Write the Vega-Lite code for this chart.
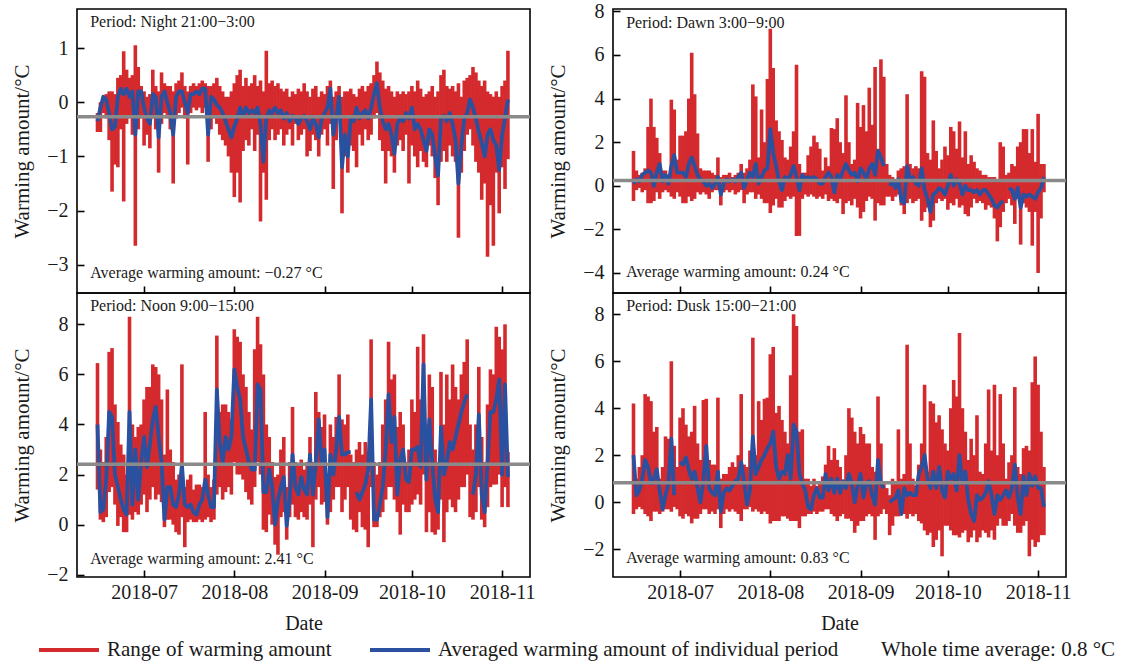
{
"$schema":"https://vega.github.io/schema/vega-lite/v6.json",
"autosize":{"type":"pad"},
"padding":{"left":10,"top":0,"right":5,"bottom":5},
"background":"white",
"config":{
 "font":"Liberation Serif",
 "view":{"stroke":"#000","strokeWidth":1.6},
 "axis":{"domain":false,"grid":false,"ticks":true,"tickColor":"#000","tickWidth":1.6,"tickSize":-7,"labelFont":"Liberation Serif","labelFontSize":20,"labelColor":"#1a1a1a","titleFont":"Liberation Serif","titleFontWeight":"normal","titleColor":"#1a1a1a"},
 "axisX":{"labelPadding":12,"titleFontSize":20,"titlePadding":11,"labelFlush":false,"labelOverlap":false},
 "axisY":{"labelPadding":16,"titleFontSize":21,"titlePadding":14,"format":"d"}
},
"datasets":{
"night":[
{"d":"2018-06-15","lo":-0.55,"hi":-0.2,"m":-0.35},{"d":"2018-06-16","lo":-0.55,"hi":0,"m":-0.1},{"d":"2018-06-17","lo":-0.2,"hi":0.1,"m":0.1},{"d":"2018-06-18","lo":-0.3,"hi":0.15,"m":0.05},{"d":"2018-06-19","lo":-0.7,"hi":0.2,"m":-0.2},{"d":"2018-06-20","lo":-1.65,"hi":0.2,"m":-0.5},{"d":"2018-06-21","lo":-1.15,"hi":0.15,"m":-0.45},{"d":"2018-06-22","lo":-1.2,"hi":0.45,"m":0.1},{"d":"2018-06-23","lo":-0.5,"hi":0.5,"m":0.25},{"d":"2018-06-24","lo":-1.83,"hi":0.94,"m":0.15},{"d":"2018-06-25","lo":-0.4,"hi":0.6,"m":0.25},{"d":"2018-06-26","lo":-0.3,"hi":0.45,"m":0.1},{"d":"2018-06-27","lo":-0.6,"hi":0.5,"m":0.2},{"d":"2018-06-28","lo":-2.65,"hi":1.05,"m":-0.6},{"d":"2018-06-29","lo":-0.5,"hi":0.65,"m":0.2},{"d":"2018-06-30","lo":-0.3,"hi":0.3,"m":0.2},
{"d":"2018-07-01","lo":-0.8,"hi":0.2,"m":-0.1},{"d":"2018-07-02","lo":-0.6,"hi":0.1,"m":-0.3},{"d":"2018-07-03","lo":-0.85,"hi":0.15,"m":-0.4},{"d":"2018-07-04","lo":-0.3,"hi":0.6,"m":0.15},{"d":"2018-07-05","lo":-0.5,"hi":0.3,"m":0.1},{"d":"2018-07-06","lo":-1.3,"hi":0.2,"m":-0.65},{"d":"2018-07-07","lo":-0.4,"hi":0.55,"m":0.1},{"d":"2018-07-08","lo":-0.2,"hi":0.35,"m":0.2},{"d":"2018-07-09","lo":-0.3,"hi":0.3,"m":0},{"d":"2018-07-10","lo":-0.5,"hi":0.3,"m":-0.2},{"d":"2018-07-11","lo":-1.5,"hi":0.2,"m":-0.6},{"d":"2018-07-12","lo":-0.3,"hi":0.35,"m":0.1},{"d":"2018-07-13","lo":-0.2,"hi":0.4,"m":0.2},{"d":"2018-07-14","lo":-0.1,"hi":0.55,"m":0.2},{"d":"2018-07-15","lo":-0.3,"hi":0.3,"m":0},{"d":"2018-07-16","lo":-1.15,"hi":0.2,"m":-0.2},{"d":"2018-07-17","lo":-0.2,"hi":0.3,"m":0.15},{"d":"2018-07-18","lo":-0.1,"hi":0.35,"m":0.15},{"d":"2018-07-19","lo":-0.15,"hi":0.3,"m":0.2},{"d":"2018-07-20","lo":-0.1,"hi":0.35,"m":0.15},{"d":"2018-07-21","lo":-0.2,"hi":0.4,"m":0.25},{"d":"2018-07-22","lo":-0.1,"hi":0.35,"m":0.25},{"d":"2018-07-23","lo":-1.1,"hi":0.3,"m":-0.6},{"d":"2018-07-24","lo":-0.5,"hi":0.3,"m":0.1},{"d":"2018-07-25","lo":-0.3,"hi":0.35,"m":0.05},{"d":"2018-07-26","lo":-0.4,"hi":0.45,"m":-0.05},{"d":"2018-07-27","lo":-0.6,"hi":0.3,"m":-0.1},{"d":"2018-07-28","lo":-0.7,"hi":0.2,"m":-0.2},{"d":"2018-07-29","lo":-0.8,"hi":0.1,"m":-0.35},{"d":"2018-07-30","lo":-1,"hi":0.1,"m":-0.5},{"d":"2018-07-31","lo":-1.3,"hi":0.2,"m":-0.65},
{"d":"2018-08-01","lo":-1.75,"hi":0.35,"m":-0.45},{"d":"2018-08-02","lo":-1.3,"hi":0.5,"m":-0.3},{"d":"2018-08-03","lo":-1.85,"hi":0.6,"m":-0.1},{"d":"2018-08-04","lo":-0.9,"hi":0.3,"m":-0.25},{"d":"2018-08-05","lo":-0.7,"hi":0.45,"m":-0.1},{"d":"2018-08-06","lo":-0.8,"hi":0.3,"m":-0.2},{"d":"2018-08-07","lo":-0.5,"hi":0.35,"m":-0.15},{"d":"2018-08-08","lo":-0.9,"hi":0.5,"m":-0.2},{"d":"2018-08-09","lo":-0.6,"hi":0.3,"m":-0.1},{"d":"2018-08-10","lo":-2.2,"hi":0.4,"m":-0.4},{"d":"2018-08-11","lo":-1.3,"hi":0.2,"m":-1.1},{"d":"2018-08-12","lo":-1.8,"hi":0.95,"m":-0.3},{"d":"2018-08-13","lo":-0.7,"hi":0.35,"m":-0.15},{"d":"2018-08-14","lo":-0.5,"hi":0.4,"m":-0.2},{"d":"2018-08-15","lo":-0.7,"hi":0.3,"m":-0.1},{"d":"2018-08-16","lo":-0.6,"hi":0.35,"m":-0.2},{"d":"2018-08-17","lo":-0.5,"hi":0.25,"m":-0.15},{"d":"2018-08-18","lo":-0.8,"hi":0.2,"m":-0.3},{"d":"2018-08-19","lo":-0.6,"hi":0.25,"m":-0.2},{"d":"2018-08-20","lo":-0.5,"hi":0.1,"m":-0.35},{"d":"2018-08-21","lo":-0.8,"hi":0.2,"m":-0.25},{"d":"2018-08-22","lo":-0.4,"hi":0.15,"m":-0.3},{"d":"2018-08-23","lo":-0.7,"hi":0.25,"m":-0.4},{"d":"2018-08-24","lo":-0.6,"hi":0.2,"m":-0.3},{"d":"2018-08-25","lo":-0.5,"hi":0.35,"m":-0.25},{"d":"2018-08-26","lo":-1,"hi":0.2,"m":-0.35},{"d":"2018-08-27","lo":-0.9,"hi":0.1,"m":-0.5},{"d":"2018-08-28","lo":-0.6,"hi":0.25,"m":-0.3},{"d":"2018-08-29","lo":-0.7,"hi":0.3,"m":-0.4},{"d":"2018-08-30","lo":-1,"hi":0.1,"m":-0.65},{"d":"2018-08-31","lo":-0.6,"hi":0.2,"m":-0.3},
{"d":"2018-09-01","lo":-0.5,"hi":0.15,"m":-0.2},{"d":"2018-09-02","lo":-0.8,"hi":0.3,"m":-0.1},{"d":"2018-09-03","lo":-0.4,"hi":0.4,"m":0.25},{"d":"2018-09-04","lo":-1.6,"hi":0.1,"m":-0.6},{"d":"2018-09-05","lo":-0.7,"hi":0.2,"m":-0.3},{"d":"2018-09-06","lo":-0.3,"hi":0.3,"m":0.1},{"d":"2018-09-07","lo":-2.05,"hi":0.1,"m":-1.2},{"d":"2018-09-08","lo":-1,"hi":0.2,"m":-0.6},{"d":"2018-09-09","lo":-1.3,"hi":0.2,"m":-1},{"d":"2018-09-10","lo":-0.8,"hi":0.25,"m":-0.3},{"d":"2018-09-11","lo":-0.9,"hi":0.15,"m":-0.35},{"d":"2018-09-12","lo":-1.2,"hi":0.1,"m":-0.1},{"d":"2018-09-13","lo":-0.6,"hi":0.25,"m":-0.3},{"d":"2018-09-14","lo":-0.8,"hi":0.3,"m":-0.2},{"d":"2018-09-15","lo":-0.5,"hi":0.2,"m":-0.15},{"d":"2018-09-16","lo":-0.7,"hi":0.3,"m":-0.3},{"d":"2018-09-17","lo":-0.6,"hi":0.35,"m":-0.1},{"d":"2018-09-18","lo":-0.3,"hi":0.5,"m":0.15},{"d":"2018-09-19","lo":-0.2,"hi":0.75,"m":0.35},{"d":"2018-09-20","lo":-0.7,"hi":0.55,"m":-0.1},{"d":"2018-09-21","lo":-0.9,"hi":0.4,"m":-0.35},{"d":"2018-09-22","lo":-1.5,"hi":0.25,"m":-0.5},{"d":"2018-09-23","lo":-0.9,"hi":0.3,"m":-0.4},{"d":"2018-09-24","lo":-1,"hi":0.2,"m":-0.6},{"d":"2018-09-25","lo":-1.3,"hi":0.1,"m":-0.95},{"d":"2018-09-26","lo":-0.8,"hi":0.2,"m":-0.4},{"d":"2018-09-27","lo":-0.7,"hi":0.15,"m":-0.3},{"d":"2018-09-28","lo":-0.9,"hi":0.2,"m":-0.35},{"d":"2018-09-29","lo":-0.6,"hi":0.15,"m":-0.2},{"d":"2018-09-30","lo":-1.5,"hi":0.2,"m":-0.3},
{"d":"2018-10-01","lo":-0.8,"hi":0.3,"m":-0.1},{"d":"2018-10-02","lo":-1,"hi":0.2,"m":-0.5},{"d":"2018-10-03","lo":-1.2,"hi":0.4,"m":-0.4},{"d":"2018-10-04","lo":-0.9,"hi":0.25,"m":-0.5},{"d":"2018-10-05","lo":-1.1,"hi":0.1,"m":-0.7},{"d":"2018-10-06","lo":-1.2,"hi":0.15,"m":-0.9},{"d":"2018-10-07","lo":-0.8,"hi":0.2,"m":-0.5},{"d":"2018-10-08","lo":-1,"hi":0.3,"m":-0.6},{"d":"2018-10-09","lo":-1.4,"hi":0.1,"m":-1},{"d":"2018-10-10","lo":-1.9,"hi":0.2,"m":-1.35},{"d":"2018-10-11","lo":-1.1,"hi":0.5,"m":-0.3},{"d":"2018-10-12","lo":-0.9,"hi":0.6,"m":-0.25},{"d":"2018-10-13","lo":-1.1,"hi":0.3,"m":-0.35},{"d":"2018-10-14","lo":-0.8,"hi":0.25,"m":-0.2},{"d":"2018-10-15","lo":-1,"hi":0.3,"m":-0.4},{"d":"2018-10-16","lo":-1.1,"hi":0.2,"m":-0.7},{"d":"2018-10-17","lo":-2.5,"hi":0.35,"m":-1.5},{"d":"2018-10-18","lo":-1.3,"hi":0.1,"m":-0.8},{"d":"2018-10-19","lo":-0.9,"hi":0.4,"m":-0.3},{"d":"2018-10-20","lo":-0.6,"hi":0.45,"m":-0.2},{"d":"2018-10-21","lo":-0.5,"hi":0.5,"m":0.05},{"d":"2018-10-22","lo":-0.8,"hi":0.65,"m":-0.1},{"d":"2018-10-23","lo":-1.1,"hi":0.55,"m":-0.3},{"d":"2018-10-24","lo":-1.3,"hi":0.4,"m":-0.55},{"d":"2018-10-25","lo":-1.8,"hi":0.3,"m":-0.75},{"d":"2018-10-26","lo":-1.5,"hi":0.4,"m":-1},{"d":"2018-10-27","lo":-2.85,"hi":0.2,"m":-0.6},{"d":"2018-10-28","lo":-1.9,"hi":0.15,"m":-0.5},{"d":"2018-10-29","lo":-2.65,"hi":0.1,"m":-0.7},{"d":"2018-10-30","lo":-1.3,"hi":0.2,"m":-0.8},{"d":"2018-10-31","lo":-2.05,"hi":0.1,"m":-1.25},
{"d":"2018-11-01","lo":-1.2,"hi":0.3,"m":-0.6},{"d":"2018-11-02","lo":-1.6,"hi":0.4,"m":-0.3},{"d":"2018-11-03","lo":-1.05,"hi":0.95,"m":0.05}
],
"dawn":[
{"d":"2018-06-15","lo":-0.7,"hi":1.6,"m":0.1},{"d":"2018-06-16","lo":-0.2,"hi":0.7,"m":0.3},{"d":"2018-06-17","lo":-0.1,"hi":0.5,"m":0.2},{"d":"2018-06-18","lo":-0.3,"hi":0.6,"m":0.5},{"d":"2018-06-19","lo":-0.2,"hi":0.8,"m":0.6},{"d":"2018-06-20","lo":-0.8,"hi":2.7,"m":0.7},{"d":"2018-06-21","lo":-0.8,"hi":4,"m":0.6},{"d":"2018-06-22","lo":-0.7,"hi":2.7,"m":0},{"d":"2018-06-23","lo":-0.3,"hi":2.2,"m":0.6},{"d":"2018-06-24","lo":-0.6,"hi":1.5,"m":1},{"d":"2018-06-25","lo":-0.3,"hi":0.7,"m":0.2},{"d":"2018-06-26","lo":-0.2,"hi":0.7,"m":0.5},{"d":"2018-06-27","lo":-0.3,"hi":0.5,"m":0.1},{"d":"2018-06-28","lo":-0.5,"hi":3.95,"m":0.9},{"d":"2018-06-29","lo":-0.6,"hi":3.5,"m":1.4},{"d":"2018-06-30","lo":-0.3,"hi":1.2,"m":0.6},
{"d":"2018-07-01","lo":-0.5,"hi":2.3,"m":0.6},{"d":"2018-07-02","lo":-0.8,"hi":2.3,"m":0.6},{"d":"2018-07-03","lo":-0.8,"hi":2.5,"m":0.4},{"d":"2018-07-04","lo":-0.5,"hi":4,"m":1},{"d":"2018-07-05","lo":-0.7,"hi":6.1,"m":1.3},{"d":"2018-07-06","lo":-0.6,"hi":4.2,"m":0.9},{"d":"2018-07-07","lo":-0.3,"hi":2.4,"m":0.5},{"d":"2018-07-08","lo":-0.4,"hi":0.8,"m":0.3},{"d":"2018-07-09","lo":-0.3,"hi":0.7,"m":0.2},{"d":"2018-07-10","lo":-0.4,"hi":0.7,"m":0},{"d":"2018-07-11","lo":-0.6,"hi":0.7,"m":0.1},{"d":"2018-07-12","lo":-0.3,"hi":0.6,"m":-0.1},{"d":"2018-07-13","lo":-0.2,"hi":0.5,"m":0.1},{"d":"2018-07-14","lo":-0.2,"hi":1.3,"m":0.4},{"d":"2018-07-15","lo":-0.9,"hi":0.4,"m":-0.4},{"d":"2018-07-16","lo":-0.3,"hi":0.5,"m":0.1},{"d":"2018-07-17","lo":-0.2,"hi":0.5,"m":0.3},{"d":"2018-07-18","lo":-0.3,"hi":0.6,"m":0.2},{"d":"2018-07-19","lo":-0.2,"hi":0.4,"m":0.3},{"d":"2018-07-20","lo":-0.4,"hi":0.5,"m":0.2},{"d":"2018-07-21","lo":-0.3,"hi":0.6,"m":0.4},{"d":"2018-07-22","lo":-0.2,"hi":1,"m":0.6},{"d":"2018-07-23","lo":-0.8,"hi":0.6,"m":-0.1},{"d":"2018-07-24","lo":-0.4,"hi":0.8,"m":0.3},{"d":"2018-07-25","lo":-0.3,"hi":1.2,"m":0.6},{"d":"2018-07-26","lo":-0.3,"hi":4.65,"m":0.4},{"d":"2018-07-27","lo":-0.6,"hi":4.1,"m":1},{"d":"2018-07-28","lo":-0.4,"hi":1.3,"m":0.1},{"d":"2018-07-29","lo":-0.6,"hi":3.5,"m":0.4},{"d":"2018-07-30","lo":-0.8,"hi":2,"m":0.7},{"d":"2018-07-31","lo":-0.8,"hi":4.9,"m":0.8},
{"d":"2018-08-01","lo":-1.25,"hi":7.2,"m":2.6},{"d":"2018-08-02","lo":-0.9,"hi":5.4,"m":1.5},{"d":"2018-08-03","lo":-0.6,"hi":3,"m":0.9},{"d":"2018-08-04","lo":-1,"hi":2.5,"m":0.2},{"d":"2018-08-05","lo":-1,"hi":2.1,"m":-0.2},{"d":"2018-08-06","lo":-0.7,"hi":1.3,"m":0.4},{"d":"2018-08-07","lo":-0.5,"hi":1.2,"m":0.3},{"d":"2018-08-08","lo":-0.6,"hi":1.8,"m":0.5},{"d":"2018-08-09","lo":-0.5,"hi":2.5,"m":0.9},{"d":"2018-08-10","lo":-2.3,"hi":5.55,"m":0.4},{"d":"2018-08-11","lo":-2.3,"hi":1,"m":-0.2},{"d":"2018-08-12","lo":-0.6,"hi":0.6,"m":0.5},{"d":"2018-08-13","lo":-0.4,"hi":0.6,"m":0.3},{"d":"2018-08-14","lo":-0.5,"hi":1.4,"m":0.4},{"d":"2018-08-15","lo":-0.4,"hi":1.8,"m":0.3},{"d":"2018-08-16","lo":-0.5,"hi":2.3,"m":0.4},{"d":"2018-08-17","lo":-0.6,"hi":2,"m":0.3},{"d":"2018-08-18","lo":-0.5,"hi":1.7,"m":0.1},{"d":"2018-08-19","lo":-0.6,"hi":0.7,"m":0.1},{"d":"2018-08-20","lo":-0.4,"hi":1.3,"m":0.4},{"d":"2018-08-21","lo":-0.7,"hi":0.9,"m":0.6},{"d":"2018-08-22","lo":-0.6,"hi":2.65,"m":0.4},{"d":"2018-08-23","lo":-0.7,"hi":2.6,"m":-0.3},{"d":"2018-08-24","lo":-0.8,"hi":3.1,"m":0.5},{"d":"2018-08-25","lo":-0.6,"hi":2,"m":0.3},{"d":"2018-08-26","lo":-1.3,"hi":1.5,"m":0.7},{"d":"2018-08-27","lo":-0.8,"hi":4.15,"m":1},{"d":"2018-08-28","lo":-0.7,"hi":2,"m":0.7},{"d":"2018-08-29","lo":-0.9,"hi":1,"m":0.5},{"d":"2018-08-30","lo":-0.6,"hi":1.2,"m":0.6},{"d":"2018-08-31","lo":-1,"hi":3.8,"m":0.2},
{"d":"2018-09-01","lo":-1.5,"hi":2.7,"m":0.8},{"d":"2018-09-02","lo":-1.2,"hi":3.7,"m":0.6},{"d":"2018-09-03","lo":-0.7,"hi":2.5,"m":0.3},{"d":"2018-09-04","lo":-0.5,"hi":4.5,"m":0.8},{"d":"2018-09-05","lo":-0.6,"hi":2.8,"m":1},{"d":"2018-09-06","lo":-1.6,"hi":5.45,"m":0.5},{"d":"2018-09-07","lo":-0.8,"hi":1.7,"m":1.6},{"d":"2018-09-08","lo":-0.9,"hi":5.8,"m":1.3},{"d":"2018-09-09","lo":-0.9,"hi":5,"m":0.9},{"d":"2018-09-10","lo":-0.5,"hi":1,"m":null},{"d":"2018-09-11","lo":-0.5,"hi":0.5,"m":0},{"d":"2018-09-12","lo":-0.7,"hi":0.4,"m":0.2},{"d":"2018-09-13","lo":-0.5,"hi":0.2,"m":-0.1},{"d":"2018-09-14","lo":-0.4,"hi":0.7,"m":0.3},{"d":"2018-09-15","lo":-0.9,"hi":0.8,"m":-0.7},{"d":"2018-09-16","lo":-1.3,"hi":0.9,"m":-0.8},{"d":"2018-09-17","lo":-0.8,"hi":4.2,"m":0.9},{"d":"2018-09-18","lo":-0.6,"hi":1,"m":0.3},{"d":"2018-09-19","lo":-0.8,"hi":0.8,"m":0.4},{"d":"2018-09-20","lo":-0.7,"hi":0.9,"m":0.1},{"d":"2018-09-21","lo":-0.6,"hi":0.8,"m":0},{"d":"2018-09-22","lo":-1.6,"hi":5.25,"m":0.8},{"d":"2018-09-23","lo":-1.2,"hi":5,"m":-0.2},{"d":"2018-09-24","lo":-1,"hi":1.5,"m":-0.6},{"d":"2018-09-25","lo":-1.9,"hi":1.2,"m":-1.2},{"d":"2018-09-26","lo":-1.6,"hi":3,"m":-0.4},{"d":"2018-09-27","lo":-0.8,"hi":1.6,"m":-0.3},{"d":"2018-09-28","lo":-0.6,"hi":0.8,"m":-0.1},{"d":"2018-09-29","lo":-0.7,"hi":1.2,"m":-0.2},{"d":"2018-09-30","lo":-0.6,"hi":1.8,"m":-0.4},
{"d":"2018-10-01","lo":-1.1,"hi":1.4,"m":0},{"d":"2018-10-02","lo":-0.8,"hi":2.7,"m":0.5},{"d":"2018-10-03","lo":-0.9,"hi":2.5,"m":0},{"d":"2018-10-04","lo":-0.6,"hi":1.7,"m":0.3},{"d":"2018-10-05","lo":-1,"hi":2.95,"m":0.1},{"d":"2018-10-06","lo":-0.9,"hi":1.3,"m":-0.4},{"d":"2018-10-07","lo":-1.3,"hi":2.5,"m":0},{"d":"2018-10-08","lo":-1.4,"hi":1,"m":-0.2},{"d":"2018-10-09","lo":-1,"hi":1.4,"m":-0.2},{"d":"2018-10-10","lo":-0.6,"hi":1.1,"m":-0.3},{"d":"2018-10-11","lo":-0.8,"hi":0.8,"m":-0.2},{"d":"2018-10-12","lo":-0.7,"hi":0.7,"m":-0.4},{"d":"2018-10-13","lo":-0.8,"hi":0.5,"m":-0.2},{"d":"2018-10-14","lo":-1.1,"hi":0.5,"m":-0.2},{"d":"2018-10-15","lo":-0.9,"hi":0.4,"m":-0.4},{"d":"2018-10-16","lo":-1,"hi":0.4,"m":-0.6},{"d":"2018-10-17","lo":-1.5,"hi":0.4,"m":-0.9},{"d":"2018-10-18","lo":-2.55,"hi":0.3,"m":-1},{"d":"2018-10-19","lo":-1.9,"hi":2,"m":-0.8},{"d":"2018-10-20","lo":-1.2,"hi":1.8,"m":-0.7},{"d":"2018-10-21","lo":-0.8,"hi":0.5,"m":null},{"d":"2018-10-22","lo":-0.6,"hi":0.6,"m":-0.1},{"d":"2018-10-23","lo":-0.9,"hi":1,"m":-0.2},{"d":"2018-10-24","lo":-1.75,"hi":0.9,"m":-0.6},{"d":"2018-10-25","lo":-0.6,"hi":1.8,"m":-0.1},{"d":"2018-10-26","lo":-2.7,"hi":2,"m":-1},{"d":"2018-10-27","lo":-0.8,"hi":2.6,"m":-0.4},{"d":"2018-10-28","lo":-1,"hi":2.6,"m":-0.5},{"d":"2018-10-29","lo":-1.2,"hi":1.5,"m":-0.4},{"d":"2018-10-30","lo":-2.75,"hi":2.6,"m":-0.5},{"d":"2018-10-31","lo":-1.2,"hi":1.1,"m":-0.6},
{"d":"2018-11-01","lo":-4,"hi":3.3,"m":-0.3},{"d":"2018-11-02","lo":-1.5,"hi":1,"m":-0.1},{"d":"2018-11-03","lo":-0.3,"hi":1,"m":0.4}
],
"noon":[
{"d":"2018-06-15","lo":1.4,"hi":6.45,"m":4},{"d":"2018-06-16","lo":0.2,"hi":3,"m":0.5},{"d":"2018-06-17","lo":0.1,"hi":2.5,"m":0.6},{"d":"2018-06-18","lo":0.3,"hi":3.5,"m":1.8},{"d":"2018-06-19","lo":1.3,"hi":6.9,"m":4.5},{"d":"2018-06-20","lo":1.5,"hi":7.05,"m":4.3},{"d":"2018-06-21","lo":0.8,"hi":4.8,"m":2},{"d":"2018-06-22","lo":-0.05,"hi":4.1,"m":1.5},{"d":"2018-06-23","lo":0.3,"hi":3.2,"m":1},{"d":"2018-06-24","lo":-0.3,"hi":2.8,"m":0.6},{"d":"2018-06-25","lo":-0.3,"hi":2,"m":0.4},{"d":"2018-06-26","lo":0.4,"hi":8.3,"m":4.5},{"d":"2018-06-27","lo":0.2,"hi":4,"m":0.8},{"d":"2018-06-28","lo":0.5,"hi":3.5,"m":3},{"d":"2018-06-29","lo":0.4,"hi":3.9,"m":1},{"d":"2018-06-30","lo":0.8,"hi":4,"m":2.5},
{"d":"2018-07-01","lo":1.2,"hi":5,"m":3.5},{"d":"2018-07-02","lo":0.5,"hi":5.5,"m":2.3},{"d":"2018-07-03","lo":1,"hi":5.5,"m":3.2},{"d":"2018-07-04","lo":1.5,"hi":6.4,"m":4.2},{"d":"2018-07-05","lo":1,"hi":6.3,"m":4.7},{"d":"2018-07-06","lo":1.2,"hi":6,"m":3.5},{"d":"2018-07-07","lo":0.9,"hi":5,"m":2.5},{"d":"2018-07-08","lo":-0.1,"hi":2.8,"m":0.2},{"d":"2018-07-09","lo":0.2,"hi":5.4,"m":1.5},{"d":"2018-07-10","lo":0.2,"hi":3,"m":1.5},{"d":"2018-07-11","lo":0,"hi":2.5,"m":0.8},{"d":"2018-07-12","lo":-0.3,"hi":1.8,"m":0.7},{"d":"2018-07-13","lo":-0.4,"hi":2,"m":1.2},{"d":"2018-07-14","lo":0.3,"hi":6.4,"m":2.4},{"d":"2018-07-15","lo":-0.9,"hi":1.5,"m":0.8},{"d":"2018-07-16","lo":0.1,"hi":1.8,"m":0.7},{"d":"2018-07-17","lo":0.2,"hi":2,"m":0.8},{"d":"2018-07-18","lo":0.1,"hi":1.4,"m":0.5},{"d":"2018-07-19","lo":0.1,"hi":1.6,"m":0.4},{"d":"2018-07-20","lo":0.2,"hi":1.6,"m":0.8},{"d":"2018-07-21","lo":0.1,"hi":1.5,"m":1},{"d":"2018-07-22","lo":0.2,"hi":4.5,"m":1.8},{"d":"2018-07-23","lo":0.3,"hi":2,"m":1.2},{"d":"2018-07-24","lo":0.1,"hi":1.5,"m":0.7},{"d":"2018-07-25","lo":0.2,"hi":1.8,"m":0.7},{"d":"2018-07-26","lo":1.2,"hi":7.55,"m":5.4},{"d":"2018-07-27","lo":1.5,"hi":4.5,"m":3.3},{"d":"2018-07-28","lo":1,"hi":4.8,"m":2.5},{"d":"2018-07-29","lo":1.3,"hi":4.8,"m":3.5},{"d":"2018-07-30","lo":1.5,"hi":4.5,"m":3},{"d":"2018-07-31","lo":1.2,"hi":4.2,"m":3.5},
{"d":"2018-08-01","lo":2.5,"hi":7.8,"m":6.2},{"d":"2018-08-02","lo":2,"hi":7.5,"m":5.5},{"d":"2018-08-03","lo":2,"hi":7.3,"m":5},{"d":"2018-08-04","lo":1.8,"hi":6,"m":3.5},{"d":"2018-08-05","lo":1.3,"hi":5.5,"m":3},{"d":"2018-08-06","lo":1,"hi":4.5,"m":2.5},{"d":"2018-08-07","lo":0.8,"hi":3.8,"m":2.2},{"d":"2018-08-08","lo":1.5,"hi":7,"m":2.2},{"d":"2018-08-09","lo":2.5,"hi":8.3,"m":5.6},{"d":"2018-08-10","lo":2,"hi":7.2,"m":5.4},{"d":"2018-08-11","lo":-0.2,"hi":6,"m":1.3},{"d":"2018-08-12","lo":-0.3,"hi":4,"m":1.3},{"d":"2018-08-13","lo":0.4,"hi":3.5,"m":2.2},{"d":"2018-08-14","lo":0,"hi":2.5,"m":1.5},{"d":"2018-08-15","lo":-0.8,"hi":1.9,"m":0},{"d":"2018-08-16","lo":-1.2,"hi":2,"m":1},{"d":"2018-08-17","lo":0.3,"hi":3,"m":1.5},{"d":"2018-08-18","lo":0.5,"hi":3.5,"m":1.9},{"d":"2018-08-19","lo":-0.6,"hi":1.5,"m":-0.05},{"d":"2018-08-20","lo":0.3,"hi":2.5,"m":1},{"d":"2018-08-21","lo":0.8,"hi":4.7,"m":2.8},{"d":"2018-08-22","lo":0.3,"hi":2.5,"m":1.5},{"d":"2018-08-23","lo":0.2,"hi":2.4,"m":1.2},{"d":"2018-08-24","lo":0.5,"hi":2.6,"m":1.9},{"d":"2018-08-25","lo":0.3,"hi":2.2,"m":1.4},{"d":"2018-08-26","lo":0.2,"hi":2.5,"m":1.2},{"d":"2018-08-27","lo":0.8,"hi":3.5,"m":2.8},{"d":"2018-08-28","lo":-0.9,"hi":2.5,"m":1.2},{"d":"2018-08-29","lo":1,"hi":5.3,"m":2.5},{"d":"2018-08-30","lo":1.5,"hi":4.5,"m":4.2},{"d":"2018-08-31","lo":0.8,"hi":3.9,"m":2.5},
{"d":"2018-09-01","lo":0.9,"hi":4.4,"m":3},{"d":"2018-09-02","lo":0,"hi":2,"m":0.3},{"d":"2018-09-03","lo":0.5,"hi":4,"m":2.8},{"d":"2018-09-04","lo":1,"hi":3.5,"m":2},{"d":"2018-09-05","lo":1.5,"hi":4.3,"m":3},{"d":"2018-09-06","lo":1.5,"hi":6,"m":4.3},{"d":"2018-09-07","lo":0.5,"hi":4.2,"m":2.8},{"d":"2018-09-08","lo":1,"hi":4,"m":2.8},{"d":"2018-09-09","lo":1.5,"hi":4.4,"m":2.9},{"d":"2018-09-10","lo":0.2,"hi":2.8,"m":2.9},{"d":"2018-09-11","lo":-0.2,"hi":2.5,"m":null},{"d":"2018-09-12","lo":-0.3,"hi":3,"m":1.3},{"d":"2018-09-13","lo":0.5,"hi":3.3,"m":1},{"d":"2018-09-14","lo":-0.1,"hi":2.8,"m":1.3},{"d":"2018-09-15","lo":-0.2,"hi":3.3,"m":1.6},{"d":"2018-09-16","lo":-0.9,"hi":2,"m":2.2},{"d":"2018-09-17","lo":1.5,"hi":7.4,"m":5},{"d":"2018-09-18","lo":-0.1,"hi":2.5,"m":0.2},{"d":"2018-09-19","lo":-0.1,"hi":2,"m":0.2},{"d":"2018-09-20","lo":0.3,"hi":2.5,"m":0.8},{"d":"2018-09-21","lo":0.5,"hi":4,"m":1.5},{"d":"2018-09-22","lo":1,"hi":5,"m":3},{"d":"2018-09-23","lo":1.5,"hi":7.3,"m":5.2},{"d":"2018-09-24","lo":1.5,"hi":5.8,"m":3.3},{"d":"2018-09-25","lo":1,"hi":6,"m":4.3},{"d":"2018-09-26","lo":0.5,"hi":3.9,"m":1.2},{"d":"2018-09-27","lo":-0.4,"hi":4.5,"m":2.6},{"d":"2018-09-28","lo":0.8,"hi":4,"m":3},{"d":"2018-09-29","lo":0.5,"hi":2.5,"m":1.8},{"d":"2018-09-30","lo":0.5,"hi":3,"m":1.7},
{"d":"2018-10-01","lo":0.8,"hi":5,"m":3},{"d":"2018-10-02","lo":1,"hi":4.5,"m":3},{"d":"2018-10-03","lo":1.2,"hi":7.1,"m":3.1},{"d":"2018-10-04","lo":0.8,"hi":5,"m":2.3},{"d":"2018-10-05","lo":2,"hi":7.6,"m":6.4},{"d":"2018-10-06","lo":-0.3,"hi":4,"m":1.8},{"d":"2018-10-07","lo":0.5,"hi":6,"m":4.2},{"d":"2018-10-08","lo":-0.3,"hi":5.5,"m":2.5},{"d":"2018-10-09","lo":-0.4,"hi":3,"m":1},{"d":"2018-10-10","lo":-0.2,"hi":2.5,"m":0.5},{"d":"2018-10-11","lo":1,"hi":6.1,"m":3.9},{"d":"2018-10-12","lo":-0.7,"hi":4,"m":2},{"d":"2018-10-13","lo":0.5,"hi":6,"m":2.5},{"d":"2018-10-14","lo":1,"hi":5,"m":3.3},{"d":"2018-10-15","lo":0.7,"hi":6.4,"m":3},{"d":"2018-10-16","lo":0.5,"hi":5.5,"m":3.5},{"d":"2018-10-17","lo":1,"hi":5,"m":4},{"d":"2018-10-18","lo":1.5,"hi":6,"m":4.5},{"d":"2018-10-19","lo":1.5,"hi":6.5,"m":4.9},{"d":"2018-10-20","lo":2,"hi":7.4,"m":5.2},{"d":"2018-10-21","lo":0.3,"hi":4,"m":null},{"d":"2018-10-22","lo":0.2,"hi":3,"m":1.2},{"d":"2018-10-23","lo":0.5,"hi":4,"m":2},{"d":"2018-10-24","lo":1.5,"hi":6.3,"m":4.4},{"d":"2018-10-25","lo":0.2,"hi":3.5,"m":1.2},{"d":"2018-10-26","lo":-0.1,"hi":2.5,"m":0.5},{"d":"2018-10-27","lo":0.7,"hi":4.8,"m":2.5},{"d":"2018-10-28","lo":1.5,"hi":6.2,"m":4.5},{"d":"2018-10-29","lo":1.6,"hi":6,"m":4.5},{"d":"2018-10-30","lo":1.6,"hi":7.9,"m":5},{"d":"2018-10-31","lo":2,"hi":7.5,"m":5.8},
{"d":"2018-11-01","lo":0.7,"hi":7,"m":2},{"d":"2018-11-02","lo":1.5,"hi":8,"m":5.6},{"d":"2018-11-03","lo":0.7,"hi":2.9,"m":1.9}
],
"dusk":[
{"d":"2018-06-15","lo":-0.5,"hi":4.2,"m":2},{"d":"2018-06-16","lo":-0.3,"hi":1,"m":0.3},{"d":"2018-06-17","lo":-0.2,"hi":1.5,"m":0.5},{"d":"2018-06-18","lo":-0.3,"hi":2,"m":1},{"d":"2018-06-19","lo":-0.5,"hi":4.6,"m":1.8},{"d":"2018-06-20","lo":-0.6,"hi":4.5,"m":1.5},{"d":"2018-06-21","lo":-0.8,"hi":4.3,"m":0.8},{"d":"2018-06-22","lo":-0.4,"hi":3,"m":1},{"d":"2018-06-23","lo":-0.4,"hi":3.2,"m":1.4},{"d":"2018-06-24","lo":-0.5,"hi":1,"m":0.5},{"d":"2018-06-25","lo":-0.4,"hi":1.5,"m":-0.3},{"d":"2018-06-26","lo":-0.3,"hi":2.8,"m":0.3},{"d":"2018-06-27","lo":-0.3,"hi":2.7,"m":0.8},{"d":"2018-06-28","lo":-0.4,"hi":6,"m":2.7},{"d":"2018-06-29","lo":-0.2,"hi":2.4,"m":0.3},{"d":"2018-06-30","lo":-0.3,"hi":1.5,"m":null},
{"d":"2018-07-01","lo":-0.6,"hi":3.6,"m":1.7},{"d":"2018-07-02","lo":-0.7,"hi":4,"m":1.6},{"d":"2018-07-03","lo":-0.5,"hi":3.3,"m":1.9},{"d":"2018-07-04","lo":-0.6,"hi":2.8,"m":1.4},{"d":"2018-07-05","lo":-0.9,"hi":3,"m":1},{"d":"2018-07-06","lo":-0.7,"hi":4.1,"m":1.3},{"d":"2018-07-07","lo":-0.7,"hi":2.5,"m":0.6},{"d":"2018-07-08","lo":-0.5,"hi":1.8,"m":0},{"d":"2018-07-09","lo":-0.3,"hi":4.35,"m":0.9},{"d":"2018-07-10","lo":-0.3,"hi":4.4,"m":2.4},{"d":"2018-07-11","lo":-0.5,"hi":1.8,"m":0.6},{"d":"2018-07-12","lo":-0.4,"hi":1.6,"m":0.4},{"d":"2018-07-13","lo":-0.5,"hi":1.6,"m":0.3},{"d":"2018-07-14","lo":-0.3,"hi":4.45,"m":1.3},{"d":"2018-07-15","lo":-1.1,"hi":1,"m":-0.4},{"d":"2018-07-16","lo":-0.5,"hi":1.2,"m":0.4},{"d":"2018-07-17","lo":-0.3,"hi":1.2,"m":0.6},{"d":"2018-07-18","lo":-0.4,"hi":1.5,"m":0.5},{"d":"2018-07-19","lo":-0.3,"hi":1.7,"m":0.7},{"d":"2018-07-20","lo":-0.4,"hi":1.5,"m":0.9},{"d":"2018-07-21","lo":-0.5,"hi":2,"m":1},{"d":"2018-07-22","lo":-0.8,"hi":4.6,"m":1.7},{"d":"2018-07-23","lo":-0.3,"hi":1.6,"m":0.9},{"d":"2018-07-24","lo":-0.3,"hi":1.5,"m":-0.1},{"d":"2018-07-25","lo":-0.2,"hi":2.2,"m":0.5},{"d":"2018-07-26","lo":-0.4,"hi":7,"m":2.8},{"d":"2018-07-27","lo":-0.3,"hi":2,"m":1.2},{"d":"2018-07-28","lo":-0.4,"hi":4.3,"m":1.5},{"d":"2018-07-29","lo":-0.5,"hi":3.5,"m":1.8},{"d":"2018-07-30","lo":-0.4,"hi":4.4,"m":2},{"d":"2018-07-31","lo":-0.5,"hi":4.45,"m":2.3},
{"d":"2018-08-01","lo":-0.9,"hi":6.3,"m":2.5},{"d":"2018-08-02","lo":-0.8,"hi":6.6,"m":3},{"d":"2018-08-03","lo":-0.8,"hi":3.8,"m":1.5},{"d":"2018-08-04","lo":-0.8,"hi":4.1,"m":1},{"d":"2018-08-05","lo":-0.6,"hi":3.5,"m":1.3},{"d":"2018-08-06","lo":-0.6,"hi":3,"m":1.2},{"d":"2018-08-07","lo":-0.7,"hi":2.5,"m":2},{"d":"2018-08-08","lo":-0.8,"hi":5.4,"m":1},{"d":"2018-08-09","lo":-0.8,"hi":8,"m":3.3},{"d":"2018-08-10","lo":-0.8,"hi":7.5,"m":3},{"d":"2018-08-11","lo":-1.1,"hi":3,"m":1.2},{"d":"2018-08-12","lo":-0.6,"hi":3.1,"m":0.8},{"d":"2018-08-13","lo":-0.6,"hi":1,"m":0.5},{"d":"2018-08-14","lo":-0.5,"hi":1,"m":-0.2},{"d":"2018-08-15","lo":-0.5,"hi":0.7,"m":-0.3},{"d":"2018-08-16","lo":-0.4,"hi":1,"m":0.3},{"d":"2018-08-17","lo":-0.5,"hi":0.7,"m":0.6},{"d":"2018-08-18","lo":-0.4,"hi":0.8,"m":0.2},{"d":"2018-08-19","lo":-0.4,"hi":1.1,"m":0.2},{"d":"2018-08-20","lo":-0.3,"hi":1.6,"m":1.2},{"d":"2018-08-21","lo":-0.3,"hi":2.4,"m":0.5},{"d":"2018-08-22","lo":-0.5,"hi":1.8,"m":1},{"d":"2018-08-23","lo":-0.6,"hi":2.3,"m":0.4},{"d":"2018-08-24","lo":-0.8,"hi":1.8,"m":1},{"d":"2018-08-25","lo":-0.6,"hi":1.5,"m":0.4},{"d":"2018-08-26","lo":-0.5,"hi":0.7,"m":0.9},{"d":"2018-08-27","lo":-0.7,"hi":2,"m":0.6},{"d":"2018-08-28","lo":-0.7,"hi":4,"m":1.2},{"d":"2018-08-29","lo":-0.8,"hi":3.6,"m":0.8},{"d":"2018-08-30","lo":-1.3,"hi":3,"m":0},{"d":"2018-08-31","lo":-1,"hi":2.5,"m":0.7},
{"d":"2018-09-01","lo":-0.8,"hi":3.2,"m":1.2},{"d":"2018-09-02","lo":-0.8,"hi":2.9,"m":0.2},{"d":"2018-09-03","lo":-0.6,"hi":2.5,"m":0.8},{"d":"2018-09-04","lo":-0.5,"hi":2.5,"m":0.9},{"d":"2018-09-05","lo":-0.6,"hi":1.5,"m":0.3},{"d":"2018-09-06","lo":-1.6,"hi":1.3,"m":-0.1},{"d":"2018-09-07","lo":-0.6,"hi":4.5,"m":1.8},{"d":"2018-09-08","lo":-0.5,"hi":2.5,"m":0.8},{"d":"2018-09-09","lo":-0.3,"hi":0.8,"m":0.6},{"d":"2018-09-10","lo":-0.5,"hi":0.6,"m":null},{"d":"2018-09-11","lo":-1.4,"hi":0.3,"m":0},{"d":"2018-09-12","lo":-1,"hi":1,"m":0.1},{"d":"2018-09-13","lo":-0.6,"hi":0.8,"m":0.2},{"d":"2018-09-14","lo":-0.6,"hi":3.1,"m":0.5},{"d":"2018-09-15","lo":-0.4,"hi":1,"m":-0.5},{"d":"2018-09-16","lo":-0.5,"hi":1.2,"m":0.6},{"d":"2018-09-17","lo":-0.7,"hi":6.7,"m":0.3},{"d":"2018-09-18","lo":-0.5,"hi":2.5,"m":0.4},{"d":"2018-09-19","lo":-0.6,"hi":1,"m":0.3},{"d":"2018-09-20","lo":-0.5,"hi":0.7,"m":0.3},{"d":"2018-09-21","lo":-0.8,"hi":1.6,"m":1.2},{"d":"2018-09-22","lo":-0.9,"hi":2.5,"m":1.5},{"d":"2018-09-23","lo":-1.2,"hi":5,"m":2},{"d":"2018-09-24","lo":-1.4,"hi":1.3,"m":1},{"d":"2018-09-25","lo":-1.3,"hi":4.3,"m":0.6},{"d":"2018-09-26","lo":-1.9,"hi":4.2,"m":1.3},{"d":"2018-09-27","lo":-1.6,"hi":3.4,"m":0.6},{"d":"2018-09-28","lo":-1.2,"hi":3.7,"m":1.5},{"d":"2018-09-29","lo":-2.3,"hi":3.1,"m":0.5},{"d":"2018-09-30","lo":-1,"hi":2.5,"m":0.2},
{"d":"2018-10-01","lo":-1,"hi":2.2,"m":1.3},{"d":"2018-10-02","lo":-1.2,"hi":4,"m":1},{"d":"2018-10-03","lo":-1.4,"hi":5.2,"m":1.2},{"d":"2018-10-04","lo":-1.4,"hi":4.5,"m":0.5},{"d":"2018-10-05","lo":-1.5,"hi":7.2,"m":2},{"d":"2018-10-06","lo":-1.3,"hi":4,"m":0.8},{"d":"2018-10-07","lo":-1.2,"hi":3,"m":1.3},{"d":"2018-10-08","lo":-1.7,"hi":1.8,"m":0.1},{"d":"2018-10-09","lo":-1.5,"hi":2.7,"m":-0.5},{"d":"2018-10-10","lo":-1.2,"hi":2,"m":-0.8},{"d":"2018-10-11","lo":-1.7,"hi":3.7,"m":0.3},{"d":"2018-10-12","lo":-1.5,"hi":1.3,"m":0.1},{"d":"2018-10-13","lo":-1.2,"hi":1.2,"m":0.2},{"d":"2018-10-14","lo":-1.3,"hi":2.5,"m":0.4},{"d":"2018-10-15","lo":-1.5,"hi":4.8,"m":0.9},{"d":"2018-10-16","lo":-1.2,"hi":2.2,"m":0.3},{"d":"2018-10-17","lo":-1.6,"hi":5,"m":-0.5},{"d":"2018-10-18","lo":-1,"hi":2,"m":0.3},{"d":"2018-10-19","lo":-0.7,"hi":4.6,"m":0.1},{"d":"2018-10-20","lo":-1,"hi":2.5,"m":0.3},{"d":"2018-10-21","lo":-1,"hi":1,"m":0.5},{"d":"2018-10-22","lo":-0.8,"hi":1.7,"m":0.2},{"d":"2018-10-23","lo":-0.5,"hi":2,"m":0.6},{"d":"2018-10-24","lo":-1,"hi":4.9,"m":1.6},{"d":"2018-10-25","lo":-1.3,"hi":1.5,"m":0.2},{"d":"2018-10-26","lo":-1.3,"hi":1.2,"m":-0.5},{"d":"2018-10-27","lo":-1,"hi":2.3,"m":1.1},{"d":"2018-10-28","lo":-0.8,"hi":2.4,"m":0.3},{"d":"2018-10-29","lo":-2.3,"hi":2.2,"m":1.2},{"d":"2018-10-30","lo":-1.6,"hi":5.1,"m":0.7},{"d":"2018-10-31","lo":-1.9,"hi":6.2,"m":1.1},
{"d":"2018-11-01","lo":-1.7,"hi":5,"m":0.6},{"d":"2018-11-02","lo":-1.4,"hi":3,"m":0.6},{"d":"2018-11-03","lo":-1.4,"hi":1.5,"m":-0.2}
]
},
"columns":2,
"spacing":{"row":0,"column":83},
"bounds":"flush",
"concat":[
{"width":453,"height":284,
 "data":{"name":"night","format":{"parse":{"d":"date:'%Y-%m-%d'"}}},
 "layer":[
  {"mark":{"type":"rule","strokeWidth":3.6},
   "encoding":{
    "x":{"field":"d","type":"temporal","scale":{"domain":[{"year":2018,"month":6,"date":7,"hours":23},{"year":2018,"month":11,"date":10,"hours":14}]},"axis":{"title":null,"labels":false,"values":[{"year":2018,"month":7,"date":1},{"year":2018,"month":8,"date":1},{"year":2018,"month":9,"date":1},{"year":2018,"month":10,"date":1},{"year":2018,"month":11,"date":1}]}},
    "y":{"field":"lo","type":"quantitative","scale":{"domain":[-3.52,1.72],"nice":false,"zero":false},"axis":{"title":"Warming amount/°C","values":[-3,-2,-1,0,1]}},
    "y2":{"field":"hi"},
    "color":{"datum":"Range of warming amount","scale":{"domain":["Range of warming amount","Averaged warming amount of individual period"],"range":["#d42a2e","#2a50a0"]},
     "legend":{"orient":"none","legendX":-40,"legendY":609,"direction":"horizontal","title":null,"symbolType":"stroke","symbolSize":3600,"symbolStrokeWidth":4,"labelFontSize":21,"labelFont":"Liberation Serif","labelColor":"#1a1a1a","labelOffset":6,"columnPadding":30,"labelLimit":0}}}},
  {"mark":{"type":"line","strokeWidth":3.8,"strokeJoin":"round","invalid":"break-paths-show-domains"},
   "encoding":{"x":{"field":"d","type":"temporal"},"y":{"field":"m","type":"quantitative"},"color":{"datum":"Averaged warming amount of individual period"}}},
  {"data":{"values":[{}]},
   "mark":{"type":"rule","color":"#8a8a8a","strokeWidth":3.5},
   "encoding":{"y":{"datum":-0.27,"type":"quantitative"},
    "strokeDash":{"datum":"Whole time average: 0.8 °C","scale":{"domain":["Whole time average: 0.8 °C"],"range":[[1,0]]},
     "legend":{"orient":"none","legendX":781,"legendY":630,"title":null,"symbolSize":1,"symbolOpacity":0,"symbolStrokeWidth":0,"labelFontSize":21,"labelFont":"Liberation Serif","labelColor":"#1a1a1a","labelOffset":2,"labelLimit":0}}}},
  {"data":{"values":[{}]},
   "mark":{"type":"text","align":"left","baseline":"middle","fontSize":16,"font":"Liberation Serif","color":"#1a1a1a"},
   "encoding":{"x":{"datum":{"year":2018,"month":6,"date":12,"hours":12},"type":"temporal"},"y":{"datum":1.48,"type":"quantitative"},"text":{"value":"Period: Night 21:00−3:00"}}},
  {"data":{"values":[{}]},
   "mark":{"type":"text","align":"left","baseline":"middle","fontSize":16,"font":"Liberation Serif","color":"#1a1a1a"},
   "encoding":{"x":{"datum":{"year":2018,"month":6,"date":12,"hours":12},"type":"temporal"},"y":{"datum":-3.16,"type":"quantitative"},"text":{"value":"Average warming amount: −0.27 °C"}}}
 ]},
{"width":453,"height":284,
 "data":{"name":"dawn","format":{"parse":{"d":"date:'%Y-%m-%d'"}}},
 "layer":[
  {"mark":{"type":"rule","strokeWidth":3.6},
   "encoding":{
    "x":{"field":"d","type":"temporal","scale":{"domain":[{"year":2018,"month":6,"date":7,"hours":23},{"year":2018,"month":11,"date":10,"hours":14}]},"axis":{"title":null,"labels":false,"values":[{"year":2018,"month":7,"date":1},{"year":2018,"month":8,"date":1},{"year":2018,"month":9,"date":1},{"year":2018,"month":10,"date":1},{"year":2018,"month":11,"date":1}]}},
    "y":{"field":"lo","type":"quantitative","scale":{"domain":[-4.92,8.11],"nice":false,"zero":false},"axis":{"title":"Warming amount/°C","values":[-4,-2,0,2,4,6,8]}},
    "y2":{"field":"hi"},
    "color":{"datum":"Range of warming amount"}}},
  {"mark":{"type":"line","strokeWidth":3.8,"strokeJoin":"round","invalid":"break-paths-show-domains"},
   "encoding":{"x":{"field":"d","type":"temporal"},"y":{"field":"m","type":"quantitative"},"color":{"datum":"Averaged warming amount of individual period"}}},
  {"data":{"values":[{}]},
   "mark":{"type":"rule","color":"#8a8a8a","strokeWidth":3.5},
   "encoding":{"y":{"datum":0.24,"type":"quantitative"},"strokeDash":{"datum":"Whole time average: 0.8 °C"}}},
  {"data":{"values":[{}]},
   "mark":{"type":"text","align":"left","baseline":"middle","fontSize":16,"font":"Liberation Serif","color":"#1a1a1a"},
   "encoding":{"x":{"datum":{"year":2018,"month":6,"date":12,"hours":12},"type":"temporal"},"y":{"datum":7.49,"type":"quantitative"},"text":{"value":"Period: Dawn 3:00−9:00"}}},
  {"data":{"values":[{}]},
   "mark":{"type":"text","align":"left","baseline":"middle","fontSize":16,"font":"Liberation Serif","color":"#1a1a1a"},
   "encoding":{"x":{"datum":{"year":2018,"month":6,"date":12,"hours":12},"type":"temporal"},"y":{"datum":-3.97,"type":"quantitative"},"text":{"value":"Average warming amount: 0.24 °C"}}}
 ]},
{"width":453,"height":284,
 "data":{"name":"noon","format":{"parse":{"d":"date:'%Y-%m-%d'"}}},
 "layer":[
  {"mark":{"type":"rule","strokeWidth":3.6},
   "encoding":{
    "x":{"field":"d","type":"temporal","scale":{"domain":[{"year":2018,"month":6,"date":7,"hours":23},{"year":2018,"month":11,"date":10,"hours":14}]},"axis":{"title":"Date","format":"%Y-%m","values":[{"year":2018,"month":7,"date":1},{"year":2018,"month":8,"date":1},{"year":2018,"month":9,"date":1},{"year":2018,"month":10,"date":1},{"year":2018,"month":11,"date":1}]}},
    "y":{"field":"lo","type":"quantitative","scale":{"domain":[-2.09,9.25],"nice":false,"zero":false},"axis":{"title":"Warming amount/°C","values":[-2,0,2,4,6,8]}},
    "y2":{"field":"hi"},
    "color":{"datum":"Range of warming amount"}}},
  {"mark":{"type":"line","strokeWidth":3.8,"strokeJoin":"round","invalid":"break-paths-show-domains"},
   "encoding":{"x":{"field":"d","type":"temporal"},"y":{"field":"m","type":"quantitative"},"color":{"datum":"Averaged warming amount of individual period"}}},
  {"data":{"values":[{}]},
   "mark":{"type":"rule","color":"#8a8a8a","strokeWidth":3.5},
   "encoding":{"y":{"datum":2.41,"type":"quantitative"},"strokeDash":{"datum":"Whole time average: 0.8 °C"}}},
  {"data":{"values":[{}]},
   "mark":{"type":"text","align":"left","baseline":"middle","fontSize":16,"font":"Liberation Serif","color":"#1a1a1a"},
   "encoding":{"x":{"datum":{"year":2018,"month":6,"date":12,"hours":12},"type":"temporal"},"y":{"datum":8.75,"type":"quantitative"},"text":{"value":"Period: Noon 9:00−15:00"}}},
  {"data":{"values":[{}]},
   "mark":{"type":"text","align":"left","baseline":"middle","fontSize":16,"font":"Liberation Serif","color":"#1a1a1a"},
   "encoding":{"x":{"datum":{"year":2018,"month":6,"date":12,"hours":12},"type":"temporal"},"y":{"datum":-1.39,"type":"quantitative"},"text":{"value":"Average warming amount: 2.41 °C"}}}
 ]},
{"width":453,"height":284,
 "data":{"name":"dusk","format":{"parse":{"d":"date:'%Y-%m-%d'"}}},
 "layer":[
  {"mark":{"type":"rule","strokeWidth":3.6},
   "encoding":{
    "x":{"field":"d","type":"temporal","scale":{"domain":[{"year":2018,"month":6,"date":7,"hours":23},{"year":2018,"month":11,"date":10,"hours":14}]},"axis":{"title":"Date","format":"%Y-%m","values":[{"year":2018,"month":7,"date":1},{"year":2018,"month":8,"date":1},{"year":2018,"month":9,"date":1},{"year":2018,"month":10,"date":1},{"year":2018,"month":11,"date":1}]}},
    "y":{"field":"lo","type":"quantitative","scale":{"domain":[-3.18,8.9],"nice":false,"zero":false},"axis":{"title":"Warming amount/°C","values":[-2,0,2,4,6,8]}},
    "y2":{"field":"hi"},
    "color":{"datum":"Range of warming amount"}}},
  {"mark":{"type":"line","strokeWidth":3.8,"strokeJoin":"round","invalid":"break-paths-show-domains"},
   "encoding":{"x":{"field":"d","type":"temporal"},"y":{"field":"m","type":"quantitative"},"color":{"datum":"Averaged warming amount of individual period"}}},
  {"data":{"values":[{}]},
   "mark":{"type":"rule","color":"#8a8a8a","strokeWidth":3.5},
   "encoding":{"y":{"datum":0.83,"type":"quantitative"},"strokeDash":{"datum":"Whole time average: 0.8 °C"}}},
  {"data":{"values":[{}]},
   "mark":{"type":"text","align":"left","baseline":"middle","fontSize":16,"font":"Liberation Serif","color":"#1a1a1a"},
   "encoding":{"x":{"datum":{"year":2018,"month":6,"date":12,"hours":12},"type":"temporal"},"y":{"datum":8.35,"type":"quantitative"},"text":{"value":"Period: Dusk 15:00−21:00"}}},
  {"data":{"values":[{}]},
   "mark":{"type":"text","align":"left","baseline":"middle","fontSize":16,"font":"Liberation Serif","color":"#1a1a1a"},
   "encoding":{"x":{"datum":{"year":2018,"month":6,"date":12,"hours":12},"type":"temporal"},"y":{"datum":-2.39,"type":"quantitative"},"text":{"value":"Average warming amount: 0.83 °C"}}}
 ]}
]
}
